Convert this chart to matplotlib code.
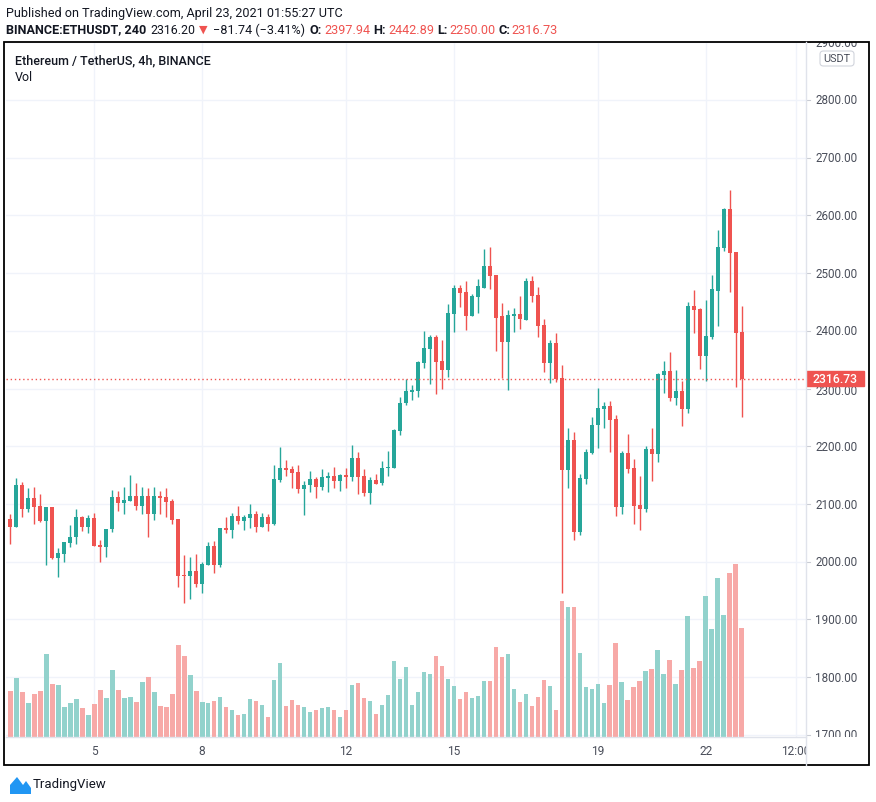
import matplotlib

matplotlib.use("Agg")
import matplotlib.pyplot as plt
from matplotlib.patches import Rectangle, FancyBboxPatch, Polygon
from matplotlib.lines import Line2D

# --- data: ETHUSDT 4h candles, Apr 2 16:00 -> Apr 23 00:00 (UTC) ---
opens = [
    2074, 2061, 2133, 2092, 2110, 2097, 2070, 2095, 2007, 2014, 2033, 2042, 2078, 2061, 2076, 2029,
    2026, 2056, 2112, 2102, 2106, 2114, 2097, 2114, 2083, 2114, 2112, 2105, 2074, 1977, 1976, 1984,
    1962, 1995, 2027, 1995, 2058, 2055, 2079, 2071, 2076, 2082, 2060, 2077, 2066, 2141, 2162, 2160,
    2155, 2126, 2133, 2143, 2129, 2145, 2148, 2140, 2150, 2147, 2180, 2148, 2119, 2141, 2136, 2162,
    2162, 2226, 2275, 2294, 2295, 2344, 2368, 2389, 2347, 2332, 2429, 2474, 2467, 2425, 2458, 2475,
    2512, 2496, 2425, 2380, 2425, 2429, 2418, 2486, 2462, 2410, 2345, 2379, 2318, 2159, 2211, 2052,
    2144, 2188, 2236, 2265, 2270, 2247, 2095, 2188, 2162, 2099, 2092, 2195, 2187, 2324, 2330, 2284,
    2296, 2265, 2443, 2438, 2356, 2389, 2469, 2543, 2611, 2536, 2397.94,
]
highs = [
    2083, 2145, 2138, 2128, 2130, 2117, 2095, 2095, 2024, 2034, 2064, 2091, 2080, 2081, 2085, 2038,
    2057, 2124, 2123, 2130, 2150, 2136, 2129, 2127, 2129, 2122, 2127, 2108, 2074, 2012, 2008, 2013,
    2000, 2034, 2036, 2059, 2077, 2084, 2096, 2081, 2100, 2088, 2084, 2082, 2167, 2199, 2176, 2166,
    2167, 2140, 2157, 2147, 2160, 2155, 2164, 2152, 2162, 2202, 2190, 2160, 2147, 2152, 2174, 2192,
    2230, 2285, 2316, 2306, 2348, 2399, 2392, 2392, 2384, 2446, 2479, 2479, 2486, 2463, 2489, 2541,
    2546, 2496, 2448, 2436, 2439, 2460, 2491, 2495, 2476, 2420, 2384, 2396, 2341, 2232, 2225, 2152,
    2195, 2251, 2301, 2277, 2279, 2254, 2191, 2221, 2178, 2149, 2201, 2232, 2327, 2348, 2363, 2332,
    2313, 2450, 2471, 2440, 2453, 2497, 2575, 2613, 2644, 2536, 2442.89,
]
lows = [
    2030, 2060, 2078, 2087, 2065, 2068, 1995, 2005, 1974, 2000, 2026, 2031, 2054, 2050, 2028, 2000,
    2009, 2052, 2088, 2083, 2106, 2089, 2083, 2043, 2072, 2083, 2078, 2066, 1957, 1929, 1936, 1957,
    1946, 1995, 1981, 1991, 2050, 2041, 2065, 2055, 2058, 2051, 2060, 2053, 2063, 2138, 2148, 2128,
    2119, 2081, 2121, 2110, 2124, 2121, 2128, 2122, 2128, 2140, 2117, 2114, 2100, 2134, 2133, 2148,
    2162, 2220, 2272, 2280, 2285, 2335, 2308, 2290, 2299, 2320, 2398, 2441, 2401, 2425, 2430, 2474,
    2472, 2365, 2318, 2297, 2398, 2403, 2418, 2450, 2390, 2329, 2310, 2312, 1946, 2128, 2038, 2047,
    2135, 2187, 2197, 2232, 2190, 2080, 2083, 2153, 2066, 2055, 2087, 2140, 2172, 2292, 2279, 2272,
    2235, 2258, 2396, 2334, 2313, 2386, 2408, 2538, 2467, 2303, 2250.00,
]
closes = [
    2061, 2133, 2092, 2110, 2095, 2070, 2095, 2007, 2015, 2034, 2043, 2078, 2061, 2076, 2028, 2026,
    2057, 2112, 2102, 2107, 2114, 2097, 2114, 2083, 2114, 2110, 2103, 2072, 1976, 1976, 1984, 1962,
    1996, 2027, 1995, 2058, 2055, 2079, 2071, 2077, 2082, 2060, 2077, 2066, 2143, 2162, 2159, 2154,
    2126, 2133, 2143, 2129, 2147, 2148, 2140, 2150, 2147, 2180, 2147, 2119, 2141, 2134, 2162, 2163,
    2228, 2275, 2295, 2297, 2346, 2370, 2389, 2346, 2332, 2430, 2474, 2465, 2425, 2460, 2477, 2512,
    2495, 2423, 2380, 2427, 2429, 2420, 2486, 2461, 2409, 2345, 2379, 2317, 2159, 2211, 2052, 2145,
    2190, 2237, 2266, 2270, 2246, 2095, 2188, 2161, 2097, 2092, 2195, 2187, 2325, 2330, 2284, 2296,
    2265, 2443, 2436, 2356, 2391, 2472, 2545, 2611, 2535, 2396, 2316.73,
]
# volume (relative units)
volume = [
    45.7, 58.7, 44.7, 33.7, 42.7, 45.7, 82.7, 52.7, 51.7, 29.7, 33.7, 37.7, 28.7, 21.7, 32.7, 46.7,
    38.7, 66.7, 46.7, 38.7, 39.7, 34.7, 54.7, 59.7, 44.7, 30.7, 29.7, 42.7, 91.7, 80.7, 61.7, 45.7,
    34.7, 33.7, 35.7, 39.7, 29.7, 26.7, 21.7, 22.7, 37.7, 35.7, 31.7, 19.7, 56.7, 73.7, 30.7, 36.7,
    31.7, 29.7, 24.7, 26.7, 28.7, 29.7, 26.7, 19.7, 26.7, 51.7, 53.7, 38.7, 35.7, 22.7, 31.7, 41.7,
    75.7, 57.7, 69.7, 31.7, 44.7, 64.7, 62.7, 80.7, 70.7, 57.7, 50.7, 37.7, 44.7, 38.7, 40.7, 55.7,
    55.7, 89.7, 79.7, 82.7, 47.7, 34.7, 42.7, 30.7, 39.7, 56.7, 50.7, 26.7, 135.7, 129.7, 129.7, 83.7,
    49.7, 47.7, 52.7, 33.7, 51.7, 93.7, 54.7, 36.7, 49.7, 55.7, 65.7, 67.7, 86.7, 62.7, 76.7, 52.7,
    66.7, 120.7, 68.7, 75.7, 140.7, 107.7, 158.7, 121.7, 163.7, 172.7, 108.7,
]
last_price = 2316.73
price_ticks = [1700, 1800, 1900, 2000, 2100, 2200, 2300, 2400, 2500, 2600, 2700, 2800, 2900]
# candle index of each time label (index 0 = Apr 2 16:00)
time_tick_pos = [14, 32, 56, 74, 98, 116, 131]
time_tick_labels = ["5", "8", "12", "15", "19", "22", "12:00"]

UP = "#26a69a"
DOWN = "#ef5350"
UP_VOL = "#92d2cc"
DOWN_VOL = "#f7a9a7"
GRID = "#f0f3fa"
TEXT = "#131722"
AXIS_TEXT = "#4a4e5a"
FONT = "Roboto"

W, H = 876, 803
fig = plt.figure(figsize=(W / 100, H / 100), dpi=100)
fig.patch.set_facecolor("white")


def rect(x0, y0, x1, y1):
    return [x0 / W, 1 - y1 / H, (x1 - x0) / W, (y1 - y0) / H]


def fxy(x, y):
    return x / W, 1 - y / H


PL, PR, PT, PB = 6, 806, 43, 738
ylim = (1696.4, 2900.3)
xlim = (-0.67, 132.67)

# volume pane (behind)
axv = fig.add_axes(rect(PL, PT, PR, PB))
axv.set_xlim(*xlim)
axv.set_ylim(0, max(volume) * 4.02)
for t in time_tick_pos:
    axv.axvline(t, color=GRID, lw=1, zorder=0)

n = len(opens)
xs = list(range(n))
up = [c >= o for o, c in zip(opens, closes)]
axv.bar(xs, volume, width=0.83, color=[UP_VOL if u else DOWN_VOL for u in up], zorder=2)
axv.axis("off")

# price pane
ax = fig.add_axes(rect(PL, PT, PR, PB), sharex=axv)
ax.patch.set_alpha(0)
ax.set_ylim(*ylim)
for p in price_ticks:
    axv.plot([0, 1], [(p - ylim[0]) / (ylim[1] - ylim[0])] * 2, transform=axv.transAxes,
             color=GRID, lw=1, zorder=0)

colors = [UP if u else DOWN for u in up]
ax.vlines(xs, lows, highs, colors=colors, lw=1.0, zorder=3)
bottoms = [min(o, c) for o, c in zip(opens, closes)]
heights = [max(abs(c - o), 1.8) for o, c in zip(opens, closes)]
ax.bar(xs, heights, bottom=bottoms, width=0.78, color=colors, zorder=4)
ax.axhline(last_price, color=DOWN, lw=1.0, ls=(0, (1, 2)), zorder=5)
ax.axis("off")

# price axis (clipped labels)
axp = fig.add_axes(rect(PR, PT, 869, PB))
axp.set_xlim(0, 1)
axp.set_ylim(*ylim)
axp.axis("off")
for p in price_ticks:
    # the label hidden under the last-price badge is only partly shown in the reference
    lab_y = p if abs(p - last_price) > 20 else p - 3
    axp.text(9 / 63, lab_y, f"{p:.2f}", fontsize=8.4, family=FONT, color=AXIS_TEXT,
             ha="left", va="center", clip_on=True)
    axp.plot([0, 4 / 63], [p, p], color="#c9ccd4", lw=0.8, clip_on=True)
axp.add_patch(Rectangle((0, last_price - 13), 58 / 63, 26, color=DOWN, zorder=5))
axp.text(29 / 63, last_price, f"{last_price:.2f}", fontsize=8.8, family=FONT, color="white",
         weight="medium", ha="center", va="center", zorder=6)

# time axis (clipped labels)
axt = fig.add_axes(rect(PL, PB, PR, 766))
axt.set_xlim(*xlim)
axt.set_ylim(0, 1)
axt.axis("off")
for t, lab in zip(time_tick_pos, time_tick_labels):
    axt.text(t, 0.5, lab, fontsize=8.6, family=FONT, color=AXIS_TEXT,
             ha="center", va="center", clip_on=True)

# separators and frame
fig.add_artist(Line2D([PL / W, PR / W], [1 - PB / H] * 2, color="#e0e3eb", lw=1))
fig.add_artist(Line2D([PR / W] * 2, [1 - PT / H, 1 - 766 / H], color="#e0e3eb", lw=1))
fig.add_artist(Rectangle(fxy(4, 766), 865 / W, 723 / H, fill=False, edgecolor="black", lw=1.3))

# USDT badge
fig.add_artist(FancyBboxPatch(fxy(820, 67), 34 / W, 15 / H,
                              boxstyle="round,pad=0,rounding_size=0.004",
                              facecolor="white", edgecolor="#d1d4dc", lw=0.8))
fig.text(*fxy(837, 59.5), "USDT", fontsize=7.8, family=FONT, color=AXIS_TEXT,
         ha="center", va="center")

# legend texts
fig.text(*fxy(15, 61), "Ethereum / TetherUS, 4h, BINANCE", fontsize=9.0, family=FONT,
         weight="medium", color=TEXT, va="center")
fig.text(*fxy(15, 77.5), "Vol", fontsize=9.0, family=FONT, color=TEXT, va="center")

# header
hdr = fig.text(*fxy(6, 13.5), "Published on TradingView.com, April 23, 2021 01:55:27 UTC",
               fontsize=9.3, family=FONT, color=TEXT, va="center")
r = fig.canvas.get_renderer()
wpx = hdr.get_window_extent(r).width
hdr.set_fontsize(9.3 * 335 / wpx)

chunks = [
    (6, "BINANCE:ETHUSDT, 240", TEXT, "bold", 140),
    (150, "2316.20", TEXT, "normal", 45),
    (199, "\u25bc", DOWN, "normal", None),
    (213, "\u221281.74 (\u22123.41%)", TEXT, "normal", 92),
    (309, "O:", TEXT, "bold", None),
    (324, "2397.94", DOWN, "normal", 46),
    (373, "H:", TEXT, "bold", None),
    (388, "2442.89", DOWN, "normal", 46),
    (437, "L:", TEXT, "bold", None),
    (449, "2250.00", DOWN, "normal", 46),
    (498, "C:", TEXT, "bold", None),
    (511, "2316.73", DOWN, "normal", 46),
]
for x, s, col, wt, target in chunks:
    fam = ["DejaVu Sans"] if s == "\u25bc" else [FONT, "DejaVu Sans"]
    t = fig.text(*fxy(x, 30), s, fontsize=9.2 if s != "\u25bc" else 8, family=fam,
                 color=col, weight=wt, va="center")
    if target:
        w = t.get_window_extent(r).width
        t.set_fontsize(9.2 * target / w)

# TradingView logo
logo = Polygon([fxy(10, 795), fxy(10, 786), fxy(17, 778), fxy(23, 786), fxy(26, 782),
                fxy(31, 789), fxy(31, 795)], closed=True, facecolor="#2196f3",
               edgecolor="none", transform=fig.transFigure)
fig.add_artist(logo)
fig.text(*fxy(33, 785), "TradingView", fontsize=9.5, family=FONT, color=TEXT, va="center")

fig.savefig("out.png", dpi=100)
